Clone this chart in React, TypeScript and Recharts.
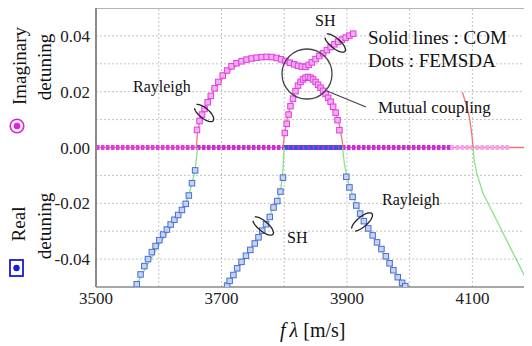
import React from "react";
import { ComposedChart, Line, Scatter, XAxis, YAxis, ReferenceLine } from "recharts";

// FEMSDA dots
const imagUpperF = [3661, 3665, 3669, 3673, 3678, 3683, 3689, 3695, 3702, 3709, 3716, 3724, 3732, 3740, 3748, 3756, 3764, 3772, 3780, 3788, 3795, 3802, 3809, 3816, 3822, 3828, 3834, 3839, 3844, 3850, 3856, 3862, 3868, 3874, 3880, 3886, 3892, 3898, 3904, 3910];
const imagUpperV = [0.0063, 0.0095, 0.0118, 0.0138, 0.0162, 0.0185, 0.0212, 0.0235, 0.0258, 0.0276, 0.0291, 0.0302, 0.0309, 0.0315, 0.0319, 0.0322, 0.0324, 0.0325, 0.0324, 0.0321, 0.0316, 0.031, 0.0304, 0.0298, 0.0293, 0.029, 0.0289, 0.0296, 0.0305, 0.0317, 0.0328, 0.0338, 0.0349, 0.036, 0.037, 0.0379, 0.0387, 0.0394, 0.0401, 0.0408];

const imagHumpF = [3801, 3804, 3807, 3810, 3814, 3818, 3822, 3826, 3830, 3834, 3838, 3842, 3846, 3850, 3854, 3858, 3862, 3866, 3870, 3874, 3878, 3882, 3885, 3888];
const imagHumpV = [0.0052, 0.0085, 0.0118, 0.0148, 0.0175, 0.0202, 0.0222, 0.0235, 0.0244, 0.025, 0.0253, 0.025, 0.0244, 0.0235, 0.0225, 0.0214, 0.0203, 0.0192, 0.0178, 0.0164, 0.0146, 0.0125, 0.0098, 0.0062];

const realRayLF = [3565, 3571, 3577, 3583, 3589, 3595, 3601, 3607, 3613, 3619, 3625, 3631, 3637, 3643, 3648, 3653, 3658];
const realRayLV = [-0.049, -0.0455, -0.0425, -0.04, -0.0375, -0.0353, -0.0332, -0.0312, -0.0294, -0.0276, -0.0259, -0.0242, -0.0224, -0.0202, -0.0172, -0.0128, -0.0082];

const realSHF = [3709, 3713, 3719, 3725, 3732, 3739, 3746, 3753, 3759, 3765, 3771, 3777, 3783, 3789, 3794, 3798];
const realSHV = [-0.0495, -0.0478, -0.0457, -0.0433, -0.041, -0.0388, -0.0367, -0.0344, -0.0322, -0.0298, -0.0275, -0.0249, -0.0215, -0.0192, -0.0158, -0.0108];

const realRayRF = [3899, 3904, 3909, 3915, 3921, 3927, 3934, 3941, 3948, 3955, 3962, 3968, 3974, 3981, 3988, 3993];
const realRayRV = [-0.0105, -0.0143, -0.0177, -0.0208, -0.0237, -0.0264, -0.029, -0.0315, -0.034, -0.0364, -0.039, -0.0415, -0.044, -0.0465, -0.0485, -0.0497];

// flat FEMSDA runs along zero (start, end)
const zeroMagentaF = [3500, 3661];
const zeroPurpleF = [3661, 4065];
const zeroPinkF = [4065, 4160];
const zeroBlueF = [3800, 3893];

// COM solid lines
const comImagRayF = [3660, 3662, 3667, 3675, 3690, 3710, 3735, 3760, 3785, 3805, 3825, 3835, 3845, 3865, 3890, 3910];
const comImagRayV = [0, 0.006, 0.0105, 0.015, 0.0212, 0.0272, 0.031, 0.0323, 0.0322, 0.0309, 0.0292, 0.029, 0.0305, 0.0343, 0.0386, 0.0408];
const comImagSHF = [3798, 3800, 3804, 3810, 3818, 3828, 3838, 3848, 3860, 3872, 3882, 3888, 3892, 3894];
const comImagSHV = [0, 0.004, 0.0095, 0.015, 0.0205, 0.0238, 0.0252, 0.0243, 0.0208, 0.0175, 0.0128, 0.008, 0.003, 0];
const comImag4100F = [4084, 4090, 4095, 4099, 4101];
const comImag4100V = [0.0198, 0.0155, 0.011, 0.005, 0];
const comImagZeroF = [3500, 4195];

const comRealRayLF = [3562, 3600, 3634, 3642, 3648, 3653, 3658, 3662];
const comRealRayLV = [-0.05, -0.035, -0.0235, -0.0205, -0.017, -0.0128, -0.0082, 0];
const comRealSHF = [3708, 3740, 3770, 3783, 3790, 3795, 3798, 3800];
const comRealSHV = [-0.05, -0.0385, -0.0277, -0.0215, -0.0185, -0.014, -0.008, 0];
const comRealRayRF = [3893, 3896, 3900, 3910, 3930, 3960, 3994];
const comRealRayRV = [0, -0.006, -0.0105, -0.018, -0.0272, -0.0388, -0.05];
const comReal4100F = [4101, 4103, 4107, 4117, 4128, 4144, 4160, 4176, 4192];
const comReal4100V = [0, -0.005, -0.0093, -0.0165, -0.0213, -0.0285, -0.0357, -0.0428, -0.05];

const xTicks = [3500, 3700, 3900, 4100];
const yTicks = [-0.04, -0.02, 0, 0.02, 0.04];
const xGrid = [3600, 3700, 3800, 3900, 4000, 4100];
const yGrid = [-0.04, -0.03, -0.02, -0.01, 0.01, 0.02, 0.03, 0.04];

const pts = (f: number[], v: number[]) => f.map((x, i) => ({ f: x, v: v[i] }));
const flat = (f: number[]) => f.map((x) => ({ f: x, v: 0 }));

const FONT = "Liberation Serif";
const MAG = "#e23ce2";
const MAG_FILL = "#f4aef4";
const BLUE = "#4a6cd4";
const BLUE_FILL = "#c6d4f4";
const RED = "#f07474";
const GREEN = "#86e486";

const square = (stroke: string, fill: string) => (p: any) =>
  <rect x={p.cx - 2.75} y={p.cy - 2.75} width={5.5} height={5.5} fill={fill} stroke={stroke} strokeWidth={1} />;

const XTick = ({ x, y, payload }: any) => (
  <text x={x} y={y + 13} textAnchor="middle" fontFamily={FONT} fontSize={17} fill="#222">
    {payload.value}
  </text>
);

const YTick = ({ x, y, payload }: any) => (
  <text x={x} y={y + 6} textAnchor="end" fontFamily={FONT} fontSize={17} fill="#222">
    {Number(payload.value).toFixed(2)}
  </text>
);

const loopPath = (cx: number, cy: number, rx: number, ry: number, rot: number) => {
  const r = (rot * Math.PI) / 180;
  const out: string[] = [];
  for (let a = 200; a <= 510; a += 10) {
    const t = (a * Math.PI) / 180;
    const x = rx * Math.cos(t);
    const y = ry * Math.sin(t);
    out.push(`${(cx + x * Math.cos(r) - y * Math.sin(r)).toFixed(1)},${(cy + x * Math.sin(r) + y * Math.cos(r)).toFixed(1)}`);
  }
  return "M" + out.join("L");
};

export default function App() {
  const lineProps = { dataKey: "v", dot: false, activeDot: false, isAnimationActive: false } as const;
  return (
    <div style={{ position: "relative", width: 524, height: 336, fontFamily: FONT }}>
      <ComposedChart width={524} height={336} margin={{ top: 0, right: 0, bottom: 0, left: 0 }}>
        <XAxis
          type="number"
          dataKey="f"
          domain={[3500, 4195]}
          allowDataOverflow
          ticks={xTicks}
          height={57}
          tickLine={false}
          tickSize={0}
          tickMargin={4}
          axisLine={{ stroke: "#8a8a8a", strokeWidth: 1.5 }}
          tick={<XTick />}
        />
        <YAxis
          type="number"
          dataKey="v"
          domain={[-0.05, 0.05]}
          allowDataOverflow
          ticks={yTicks}
          width={88}
          tickLine={false}
          tickSize={0}
          tickMargin={6}
          axisLine={{ stroke: "#8a8a8a", strokeWidth: 2 }}
          tick={<YTick />}
        />
        {xGrid.map((x) => (
          <ReferenceLine key={"gx" + x} x={x} stroke="#c4c4c4" strokeDasharray="2 2" />
        ))}
        {yGrid.map((y) => (
          <ReferenceLine key={"gy" + y} y={y} stroke="#c4c4c4" strokeDasharray="2 2" />
        ))}
        <ReferenceLine y={0.05} stroke="#9a9a9a" strokeWidth={1.5} />

        <Line {...lineProps} data={flat(comImagZeroF)} stroke={RED} strokeWidth={1.5} />
        <Line {...lineProps} data={flat(zeroMagentaF)} stroke={MAG} strokeWidth={5} strokeDasharray="3.5 1.5" />
        <Line {...lineProps} data={flat(zeroPurpleF)} stroke="#c82ee0" strokeWidth={5} strokeDasharray="3.5 1.5" />
        <Line {...lineProps} data={flat(zeroPinkF)} stroke="#f0a6f0" strokeWidth={5} strokeDasharray="3.5 1.5" />
        <Line {...lineProps} data={flat(zeroBlueF)} stroke="#3a52e0" strokeWidth={5} strokeDasharray="3.5 1.5" />

        <Line {...lineProps} data={pts(comImagRayF, comImagRayV)} stroke={RED} strokeWidth={1.3} />
        <Line {...lineProps} data={pts(comImagSHF, comImagSHV)} stroke={RED} strokeWidth={1.3} />
        <Line {...lineProps} data={pts(comImag4100F, comImag4100V)} stroke={RED} strokeWidth={1.3} />
        <Line {...lineProps} data={pts(comRealRayLF, comRealRayLV)} stroke={GREEN} strokeWidth={1.3} />
        <Line {...lineProps} data={pts(comRealSHF, comRealSHV)} stroke={GREEN} strokeWidth={1.3} />
        <Line {...lineProps} data={pts(comRealRayRF, comRealRayRV)} stroke={GREEN} strokeWidth={1.3} />
        <Line {...lineProps} data={pts(comReal4100F, comReal4100V)} stroke={GREEN} strokeWidth={1.3} />

        <Scatter data={pts(imagUpperF, imagUpperV)} isAnimationActive={false} shape={square(MAG, MAG_FILL)} />
        <Scatter data={pts(imagHumpF, imagHumpV)} isAnimationActive={false} shape={square(MAG, MAG_FILL)} />
        <Scatter data={pts(realRayLF, realRayLV)} isAnimationActive={false} shape={square(BLUE, BLUE_FILL)} />
        <Scatter data={pts(realSHF, realSHV)} isAnimationActive={false} shape={square(BLUE, BLUE_FILL)} />
        <Scatter data={pts(realRayRF, realRayRV)} isAnimationActive={false} shape={square(BLUE, BLUE_FILL)} />
      </ComposedChart>

      <svg
        width={524}
        height={336}
        style={{ position: "absolute", left: 0, top: 0, overflow: "visible", pointerEvents: "none" }}
        fontFamily={FONT}
      >
        {/* y-axis captions */}
        <text transform="translate(11,58) rotate(-90)" textAnchor="middle" dominantBaseline="central" fontSize={19} fill="#111">Imaginary</text>
        <text transform="translate(36,59) rotate(-90)" textAnchor="middle" dominantBaseline="central" fontSize={19} fill="#111">detuning</text>
        <circle cx={9} cy={118} r={6.8} fill="none" stroke="#e020e0" strokeWidth={1.6} />
        <circle cx={9} cy={118} r={3.3} fill="#e020e0" />
        <text transform="translate(10,216) rotate(-90)" textAnchor="middle" dominantBaseline="central" fontSize={19} fill="#111">Real</text>
        <text transform="translate(36,218) rotate(-90)" textAnchor="middle" dominantBaseline="central" fontSize={19} fill="#111">detuning</text>
        <rect x={2} y={252} width={13} height={16} fill="none" stroke="#1a1ad8" strokeWidth={1.8} />
        <circle cx={8.5} cy={260} r={3.2} fill="#1a1ad8" />

        {/* annotations */}
        <g fontSize={16} fill="#111">
          <text x={125} y={84}>Rayleigh</text>
          <text x={307} y={18}>SH</text>
          <text x={279} y={235}>SH</text>
          <text x={374} y={197}>Rayleigh</text>
          <text x={370} y={105} fontSize={17}>Mutual coupling</text>
          <text x={360} y={36} fontSize={19}>Solid lines : COM</text>
          <text x={360} y={59} fontSize={19}>Dots : FEMSDA</text>
        </g>
        <g fill="none" stroke="#222" strokeWidth={1.3}>
          <path d={loopPath(196, 105, 12, 5, 40)} />
          <path d={loopPath(327, 35, 13, 5, 40)} />
          <path d={loopPath(255, 218, 13, 5, 40)} />
          <path d={loopPath(354, 214, 13, 5, -40)} />
        </g>
        <circle cx={299} cy={66} r={25} fill="none" stroke="#444" strokeWidth={1.3} />
        <line x1={319} y1={83} x2={358} y2={99} stroke="#444" strokeWidth={1.3} />

        {/* x-axis caption */}
        <text x={272} y={329} fontSize={20} fill="#111">
          <tspan fontStyle="italic">f</tspan>
          <tspan fontStyle="italic" dx={4}>λ</tspan>
          <tspan dx={5}>[m/s]</tspan>
        </text>
      </svg>
    </div>
  );
}
